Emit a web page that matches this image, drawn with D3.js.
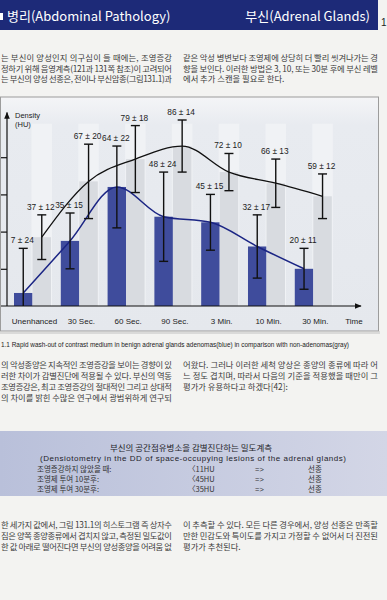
<!DOCTYPE html>
<html>
<head>
<meta charset="utf-8">
<script src="https://cdn.jsdelivr.net/npm/d3@7"></script>
<style>
  body { margin: 0; background: #f3f3f1; }
  svg { display: block; }
</style>
</head>
<body>
<svg id="page" width="387" height="600"></svg>
<script>
// chart data
var categories = ['Unenhanced', '30 Sec.', '60 Sec.', '90 Sec.', '3 Min.', '10 Min.', '30 Min.'];
var adenomaMean = [7, 35, 64, 48, 45, 32, 20];
var adenomaSd = [24, 15, 22, 24, 15, 17, 11];
var nonAdenomaMean = [37, 67, 79, 86, 72, 66, 59];
var nonAdenomaSd = [12, 20, 18, 14, 10, 13, 12];
var yTicks = [20, 40, 60, 80];

// page text
var headerLeft = '병리(Abdominal Pathology)';
var headerRight = '부신(Adrenal Glands)';
var para1Left = ['는 부신이 양성인지 의구심이 들 때에는, 조영증강', '정하기 위해 음영계측(121과 131쪽 참조)이 고려되어', '는 부신의 양성 선종은, 전이나 부신암종(그림131.1)과'];
var para1Right = ['같은 악성 병변보다 조영제에 상당히 더 빨리 씻겨나가는 경', '향을 보인다. 이러한 방법은 3, 10, 또는 30분 후에 부신 레벨', '에서 추가 스캔을 필요로 한다.'];
var caption = '1.1  Rapid wash-out of contrast medium in benign adrenal glands adenomas(blue) in comparison with non-adenomas(gray)';
var para2Left = ['의 악성종양은 지속적인 조영증강을 보이는 경향이 있', '러한 차이가 감별진단에 적용될 수 있다. 부신의 역동', '조영증강은, 최고 조영증강의 절대적인 그리고 상대적', '의 차이를 밝힌 수많은 연구에서 광범위하게 연구되'];
var para2Right = ['어왔다. 그러나 이러한 세척 양상은 종양의 종류에 따라 어', '느 정도 겹치며, 따라서 다음의 기준을 적용했을 때만이 그', '평가가 유용하다고 하겠다[42]:'];
var boxTitle = '부신의 공간점유병소을 감별진단하는 밀도계측';
var boxSubtitle = '(Densiotometry in the DD of space-occupying lesions of the adrenal glands)';
var boxRows = ['조영증강하지 않았을 때:', '조영제 투여 10분후:', '조영제 투여 30분후:'];
var boxLimits = ['〈11HU', '〈45HU', '〈35HU'];
var para3Left = ['한 세가지 값에서, 그림 131.1의 히스토그램 즉 상자수', '짐은 양쪽 종양종류에서 겹치지 않고, 측정된 밀도값이', '한 값 아래로 떨어진다면 부신의 양성종양을 어려움 없'];
var para3Right = ['이 추측할 수 있다. 모든 다른 경우에서, 양성 선종은 만족할', '만한 민감도와 특이도를 가지고 가정할 수 없어서 더 진전된', '평가가 추천된다.'];

var svg = d3.select('#page');
var kr = '"Noto Sans CJK KR", sans-serif';
var lat = '"Liberation Sans", Arial, sans-serif';

var defs = svg.append('defs');
var g1 = defs.append('linearGradient').attr('id', 'panelBg').attr('x1', 0).attr('y1', 0).attr('x2', 0).attr('y2', 1);
g1.append('stop').attr('offset', 0).attr('stop-color', '#f4f5f7');
g1.append('stop').attr('offset', 0.12).attr('stop-color', '#e8ebf0');
g1.append('stop').attr('offset', 1).attr('stop-color', '#e5e8ed');
var g2 = defs.append('linearGradient').attr('id', 'boxBg').attr('x1', 0).attr('y1', 0).attr('x2', 1).attr('y2', 0);
g2.append('stop').attr('offset', 0).attr('stop-color', '#b9c0da');
g2.append('stop').attr('offset', 1).attr('stop-color', '#d3d6e6');
defs.append('marker').attr('id', 'arrow').attr('viewBox', '0 0 10 10')
  .attr('refX', 9).attr('refY', 5).attr('markerWidth', 7).attr('markerHeight', 7)
  .attr('markerUnits', 'userSpaceOnUse').attr('orient', 'auto')
  .append('path').attr('d', 'M0,1 L10,5 L0,9 Z').attr('fill', '#111');

// header band
svg.append('rect').attr('x', 0).attr('y', 0).attr('width', 378).attr('height', 30).attr('fill', '#1d2a78');
svg.append('rect').attr('x', 0).attr('y', 13).attr('width', 3).attr('height', 7).attr('fill', '#fff');
svg.append('text').attr('x', 7).attr('y', 21).text(headerLeft)
  .attr('font-family', kr).attr('font-size', 13).attr('fill', '#fff');
svg.append('text').attr('x', 370).attr('y', 21).attr('text-anchor', 'end').text(headerRight)
  .attr('font-family', kr).attr('font-size', 13).attr('fill', '#fff');
svg.append('text').attr('x', 381).attr('y', 26).text('1')
  .attr('font-family', lat).attr('font-size', 10).attr('fill', '#222');

// body text helper
function textBlock(lines, x, y0, lead, width, lastFull) {
  lines.forEach(function (s, i) {
    var t = svg.append('text').attr('x', x).attr('y', y0 + i * lead).text(s)
      .attr('font-family', kr).attr('font-size', 8.3).attr('fill', '#3b3b3b');
    if (i < lines.length - 1 || lastFull) t.attr('textLength', width).attr('lengthAdjust', 'spacing');
  });
}
textBlock(para1Left, 1, 61, 10.5, 171, true);
textBlock(para1Right, 183, 61, 10.5, 195, false);

// chart panel
svg.append('rect').attr('x', 0.5).attr('y', 97).attr('width', 378).attr('height', 234)
  .attr('fill', 'url(#panelBg)').attr('stroke', '#9c9c9c').attr('stroke-width', 1);
svg.append('rect').attr('x', 0).attr('y', 331).attr('width', 380).attr('height', 3).attr('fill', '#c9c9c9').attr('opacity', 0.6);

var x0 = d3.scaleBand().domain(categories).range([14, 331.8]).paddingInner(0.209).paddingOuter(0);
var x1 = d3.scaleBand().domain(['adenoma', 'other']).range([0, x0.bandwidth()]);
var y = d3.scaleLinear().domain([0, 100]).range([306, 120]);

var chart = svg.append('g');

// faint tracks behind the gray bars
chart.selectAll('rect.track').data(categories).enter().append('rect')
  .attr('class', 'track')
  .attr('x', function (d) { return x0(d) + x1('other') - 1; })
  .attr('y', y(98))
  .attr('width', x1.bandwidth() + 2)
  .attr('height', y(0) - y(98))
  .attr('fill', '#f0f2f5');

chart.selectAll('rect.blue').data(categories).enter().append('rect')
  .attr('class', 'blue')
  .attr('x', function (d) { return x0(d) + x1('adenoma'); })
  .attr('y', function (d, i) { return y(adenomaMean[i]); })
  .attr('width', x1.bandwidth())
  .attr('height', function (d, i) { return y(0) - y(adenomaMean[i]); })
  .attr('fill', '#3f4c9c');

chart.selectAll('rect.gray').data(categories).enter().append('rect')
  .attr('class', 'gray')
  .attr('x', function (d) { return x0(d) + x1('other'); })
  .attr('y', function (d, i) { return y(nonAdenomaMean[i]); })
  .attr('width', x1.bandwidth())
  .attr('height', function (d, i) { return y(0) - y(nonAdenomaMean[i]); })
  .attr('fill', '#d8dbe0');

function cx(cat, key) { return x0(cat) + x1(key) + x1.bandwidth() / 2; }

// smooth lines through the means
var line = d3.line().curve(d3.curveMonotoneX);
chart.append('path')
  .attr('d', line(categories.map(function (c, i) { return [cx(c, 'other'), y(nonAdenomaMean[i])]; })))
  .attr('fill', 'none').attr('stroke', '#111').attr('stroke-width', 1.3);
chart.append('path')
  .attr('d', line(categories.map(function (c, i) { return [cx(c, 'adenoma'), y(adenomaMean[i])]; })))
  .attr('fill', 'none').attr('stroke', '#1b2584').attr('stroke-width', 1.5);

// error bars and labels
function errorBars(key, means, sds) {
  categories.forEach(function (c, i) {
    var xc = cx(c, key);
    var top = y(means[i] + sds[i]);
    var bot = y(Math.max(0, means[i] - sds[i]));
    var g = chart.append('g').attr('stroke', '#111').attr('stroke-width', 1.4);
    g.append('line').attr('x1', xc).attr('x2', xc).attr('y1', top).attr('y2', bot);
    g.append('line').attr('x1', xc - 4.5).attr('x2', xc + 4.5).attr('y1', top).attr('y2', top);
    if (means[i] - sds[i] > 0) {
      g.append('line').attr('x1', xc - 4.5).attr('x2', xc + 4.5).attr('y1', bot).attr('y2', bot);
    }
    chart.append('text').attr('x', xc - 1).attr('y', top - 5).attr('text-anchor', 'middle')
      .text(means[i] + ' ± ' + sds[i])
      .attr('font-family', lat).attr('font-size', 8.3).attr('fill', '#222');
  });
}
errorBars('other', nonAdenomaMean, nonAdenomaSd);
errorBars('adenoma', adenomaMean, adenomaSd);

// axes
var yAxis = d3.axisLeft(y).tickValues(yTicks).tickSize(6).tickFormat('');
var ya = chart.append('g').attr('transform', 'translate(7,0)').call(yAxis);
ya.select('.domain').remove();
ya.selectAll('line').attr('stroke', '#111').attr('stroke-width', 1.2);
chart.append('line').attr('x1', 7).attr('x2', 7).attr('y1', y(0)).attr('y2', y(104))
  .attr('stroke', '#111').attr('stroke-width', 1.2).attr('marker-end', 'url(#arrow)');
chart.append('line').attr('x1', 1).attr('x2', 361).attr('y1', y(0)).attr('y2', y(0))
  .attr('stroke', '#111').attr('stroke-width', 1.2).attr('marker-end', 'url(#arrow)');

chart.append('text').attr('x', 15).attr('y', 118).text('Density')
  .attr('font-family', lat).attr('font-size', 7.5).attr('fill', '#222');
chart.append('text').attr('x', 15).attr('y', 127).text('(HU)')
  .attr('font-family', lat).attr('font-size', 7.5).attr('fill', '#222');

chart.selectAll('text.cat').data(categories).enter().append('text')
  .attr('class', 'cat')
  .attr('x', function (d) { return x0(d) + x0.bandwidth() / 2 + 2; })
  .attr('y', 324).attr('text-anchor', 'middle').text(function (d) { return d; })
  .attr('font-family', lat).attr('font-size', 8).attr('fill', '#222');
chart.append('text').attr('x', 354).attr('y', 324).attr('text-anchor', 'middle').text('Time')
  .attr('font-family', lat).attr('font-size', 8).attr('fill', '#222');

// caption
svg.append('text').attr('x', 1).attr('y', 347).text(caption)
  .attr('textLength', 348).attr('lengthAdjust', 'spacing')
  .attr('font-family', lat).attr('font-size', 6.4).attr('fill', '#222');

textBlock(para2Left, 1, 368, 11, 171, true);
textBlock(para2Right, 183, 368, 11, 195, false);

// criteria box
svg.append('rect').attr('x', 0).attr('y', 431).attr('width', 387).attr('height', 65).attr('fill', 'url(#boxBg)');
svg.append('text').attr('x', 191).attr('y', 451).attr('text-anchor', 'middle').text(boxTitle)
  .attr('font-family', kr).attr('font-size', 8.5).attr('fill', '#1e1e2a');
svg.append('text').attr('x', 193).attr('y', 461).attr('text-anchor', 'middle').text(boxSubtitle)
  .attr('textLength', 306).attr('lengthAdjust', 'spacing')
  .attr('font-family', lat).attr('font-size', 8).attr('fill', '#1e1e2a');
boxRows.forEach(function (s, i) {
  var yy = 472 + i * 10;
  svg.append('text').attr('x', 37).attr('y', yy).text(s)
    .attr('font-family', kr).attr('font-size', 7.5).attr('fill', '#333');
  svg.append('text').attr('x', 188).attr('y', yy).text(boxLimits[i])
    .attr('font-family', kr).attr('font-size', 7.5).attr('fill', '#333');
  svg.append('text').attr('x', 255).attr('y', yy).text('=>')
    .attr('font-family', lat).attr('font-size', 7.5).attr('fill', '#333');
  svg.append('text').attr('x', 308).attr('y', yy).text('선종')
    .attr('font-family', kr).attr('font-size', 7.5).attr('fill', '#333');
});

textBlock(para3Left, 1, 528, 11, 171, true);
textBlock(para3Right, 183, 528, 11, 195, false);
</script>
</body>
</html>
